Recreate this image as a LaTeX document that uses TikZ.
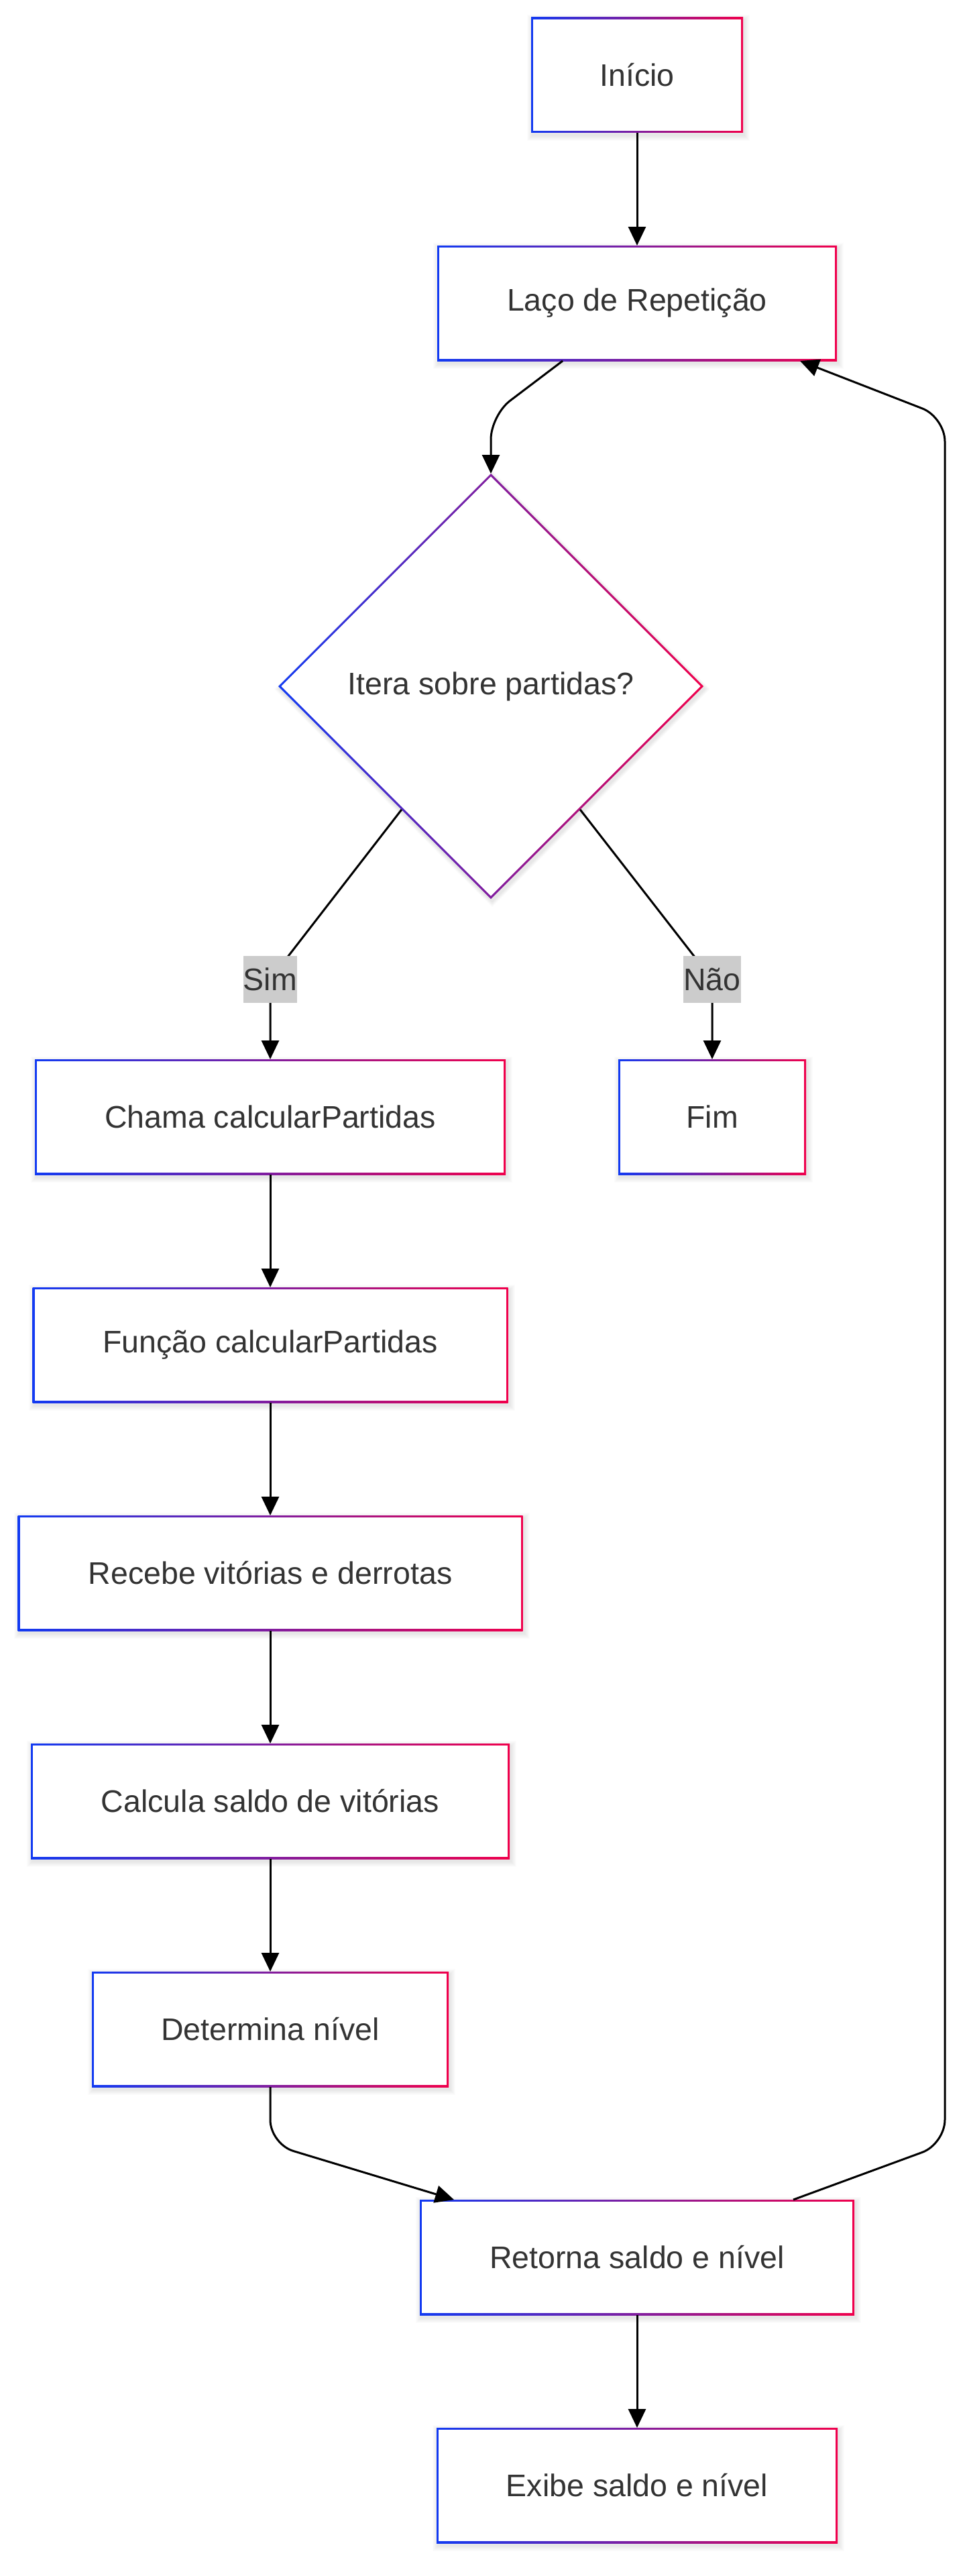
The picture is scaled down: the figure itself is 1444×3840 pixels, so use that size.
\documentclass[tikz,border=0pt]{standalone}
\usepackage{fontspec}
\setmainfont{Liberation Sans}
\usetikzlibrary{arrows.meta,shapes.geometric,calc}
\definecolor{gblue}{RGB}{18,58,242}
\definecolor{gred}{RGB}{240,0,76}
\definecolor{txt}{HTML}{333333}
\definecolor{lblbg}{HTML}{CCCCCC}
\tikzset{
  boxnode/.style={fill=white, inner sep=0pt, outer sep=3pt, text=txt, font=\fontsize{46.5}{56}\selectfont},
  conn/.style={draw=black, line width=3pt, -{Triangle[width=26pt,length=28pt]}},
  lbl/.style={fill=lblbg, text=txt, inner xsep=0pt, inner ysep=0pt, minimum height=70pt, font=\fontsize{46.5}{56}\selectfont},
  shadowfill/.style={fill=black, opacity=0.012},
}
\newcommand\gbox[6]{%
  \foreach \i in {1,...,8}{\fill[shadowfill] ({#2-#4/2+2-\i},{#3-#5/2+4-\i}) rectangle ({#2+#4/2+2+\i},{#3+#5/2+4+\i});}
  \shade[left color=gblue,right color=gred] ({#2-#4/2},{#3-#5/2}) rectangle ({#2+#4/2},{#3+#5/2});
  \node[boxnode,minimum width={#4-6},minimum height={#5-6}] (#1) at (#2,#3) {#6};
}
\begin{document}
\begin{tikzpicture}[x=1pt,y=-1pt]
\useasboundingbox (0,0) rectangle (1444,3840);
\fill[white] (0,0) rectangle (1444,3840);

% boxes
\gbox{ini}{950}{112}{316}{172}{Início}
\gbox{laco}{950}{452}{596}{172}{Laço de Repetição}
\gbox{chama}{403}{1665}{702}{172}{Chama calcularPartidas}
\gbox{fim}{1062}{1665}{280}{172}{Fim}
\gbox{func}{403}{2005}{709}{172}{Função calcularPartidas}
\gbox{recebe}{403}{2345}{753}{172}{Recebe vitórias e derrotas}
\gbox{calcula}{403}{2685}{714}{172}{Calcula saldo de vitórias}
\gbox{determ}{403}{3025}{532}{172}{Determina nível}
\gbox{retorna}{950}{3365}{648}{172}{Retorna saldo e nível}
\gbox{exibe}{950}{3705}{598}{172}{Exibe saldo e nível}

% decision diamond
\foreach \i in {1,...,8}{\fill[shadowfill] ({732+2-317-\i},{1023+4}) -- ({732+2},{1023+4-317-\i}) -- ({732+2+317+\i},{1023+4}) -- ({732+2},{1023+4+317+\i}) -- cycle;}
\shade[left color=gblue,right color=gred] (415,1023) -- (732,706) -- (1049,1023) -- (732,1340) -- cycle;
\fill[white] (419.3,1023) -- (732,710.3) -- (1044.7,1023) -- (732,1335.7) -- cycle;
\node[shape=diamond, minimum width=634pt, minimum height=634pt, inner sep=0pt, outer sep=0pt, text=txt, font=\fontsize{46.5}{56}\selectfont] (dec) at (732,1023) {Itera sobre partidas?};

% bend points
\coordinate (b1) at (732,619);
\coordinate (simc) at (403,1460);
\coordinate (naoc) at (1062,1460);
\coordinate (b3) at (403,3196);
\coordinate (b4) at (1409,3196);
\coordinate (b5) at (1409,622);

% connectors
\draw[conn] (ini.south) -- (laco.north);
\draw[conn, rounded corners=36pt] ([xshift=-111pt]laco.south) -- (b1) -- (dec.north);
\draw[conn] ($(dec.west)!0.58!(dec.south)$) -- (simc) -- (chama.north);
\draw[conn] ($(dec.east)!0.58!(dec.south)$) -- (naoc) -- (fim.north);
\draw[conn] (chama.south) -- (func.north);
\draw[conn] (func.south) -- (recebe.north);
\draw[conn] (recebe.south) -- (calcula.north);
\draw[conn] (calcula.south) -- (determ.north);
\draw[conn, rounded corners=36pt] (determ.south) -- (b3) -- ([xshift=-273pt]retorna.north);
\draw[conn, rounded corners=36pt] ([xshift=233pt]retorna.north) -- (b4) -- (b5) -- ([xshift=243pt]laco.south);
\draw[conn] (retorna.south) -- (exibe.north);

% edge labels
\node[lbl] (sim) at (simc) {Sim};
\node[lbl] (nao) at (naoc) {Não};
\end{tikzpicture}
\end{document}
